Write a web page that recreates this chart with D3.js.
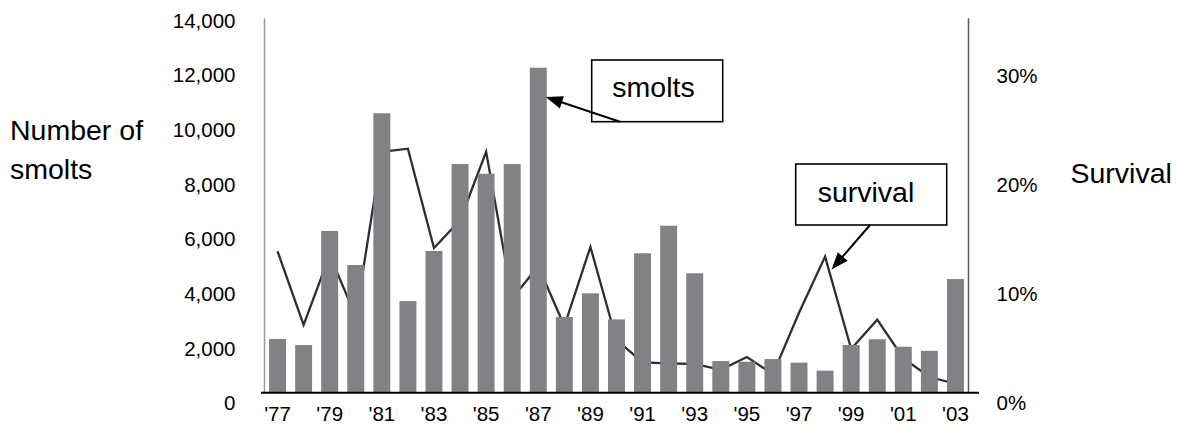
<!DOCTYPE html>
<html>
<head>
<meta charset="utf-8">
<script src="https://cdn.jsdelivr.net/npm/d3@7"></script>
<style>
  html, body { margin: 0; padding: 0; background: #ffffff; }
  svg { display: block; }
  text { font-family: "Liberation Sans", Arial, Helvetica, sans-serif; fill: #000; }
</style>
</head>
<body>
<svg id="chart" width="1180" height="424"></svg>
<script>
// ---- data ----
const years = [1977,1978,1979,1980,1981,1982,1983,1984,1985,1986,1987,1988,1989,1990,
               1991,1992,1993,1994,1995,1996,1997,1998,1999,2000,2001,2002,2003];
const smolts = [1995,1770,6040,4765,10445,3415,5290,8545,8180,8545,12150,2820,3705,2730,
                5205,6235,4455,1170,1145,1245,1110,810,1770,1985,1705,1555,4240];
const survival = [0.132,0.063,0.1285,0.071,0.225,0.228,0.135,0.161,0.225,0.088,0.118,0.062,0.136,0.049,
                  0.028,0.027,0.0265,0.021,0.033,0.017,0.0745,0.127,0.0405,0.068,0.032,0.0143,0.008];
const leftTicks = [0,2000,4000,6000,8000,10000,12000,14000];
const rightTicks = [0,0.10,0.20,0.30];
const xTickYears = [1977,1979,1981,1983,1985,1987,1989,1991,1993,1995,1997,1999,2001,2003];
const leftTitle = ["Number of", "smolts"];
const rightTitle = "Survival";
const smoltsNote = "smolts";
const survivalNote = "survival";

// ---- layout ----
const svg = d3.select("#chart");
const plotLeft = 264.5, plotRight = 968.5, plotTop = 18.3, plotBottom = 392.3;

const x = d3.scaleBand().domain(years).range([plotLeft, plotRight])
  .paddingInner(0.35).paddingOuter(0.175);
const yL = d3.scaleLinear().domain([0, 14000]).range([plotBottom, plotTop]);
const yR = d3.scaleLinear().domain([0, 0.35]).range([plotBottom, plotTop]);
// tick label placement (labels sit slightly offset from the plot, as in the original)
const yLlab = d3.scaleLinear().domain([0, 14000]).range([403.3, 20.7]);
const yRlab = d3.scaleLinear().domain([0, 0.35]).range([403.3, 21]);

const cx = d => x(d) + x.bandwidth() / 2;

// survival line (drawn behind bars)
const line = d3.line().x((d, i) => cx(years[i])).y(d => yR(d));
svg.append("path").datum(survival)
  .attr("d", line).attr("fill", "none")
  .attr("stroke", "#332d2e").attr("stroke-width", 2.3).attr("stroke-linejoin", "miter");

// bars
svg.append("g").selectAll("rect").data(smolts).join("rect")
  .attr("x", (d, i) => x(years[i]))
  .attr("y", d => yL(d))
  .attr("width", x.bandwidth())
  .attr("height", d => yL(0) - yL(d))
  .attr("fill", "#808285");

// axis lines
svg.append("line").attr("x1", plotLeft).attr("x2", plotLeft).attr("y1", plotTop).attr("y2", plotBottom)
  .attr("stroke", "#9a9c9e").attr("stroke-width", 1.5);
svg.append("line").attr("x1", plotRight).attr("x2", plotRight).attr("y1", plotTop).attr("y2", plotBottom)
  .attr("stroke", "#5a5a5a").attr("stroke-width", 1.5);
svg.append("line").attr("x1", 261).attr("x2", 979).attr("y1", plotBottom + 0.4).attr("y2", plotBottom + 0.4)
  .attr("stroke", "#000").attr("stroke-width", 2);

// left tick labels
const gL = svg.append("g").attr("transform", "translate(235.5,0)")
  .call(d3.axisLeft(yLlab).tickValues(leftTicks).tickFormat(d3.format(",")).tickSize(0).tickPadding(0));
gL.select(".domain").remove();
gL.selectAll("text").attr("font-size", 20.5).style("font-family", "Liberation Sans, Arial, sans-serif").attr("fill", "#000");

// right tick labels
const gR = svg.append("g").attr("transform", "translate(996.5,0)")
  .call(d3.axisRight(yRlab).tickValues(rightTicks).tickFormat(d3.format(".0%")).tickSize(0).tickPadding(0));
gR.select(".domain").remove();
gR.selectAll("text").attr("font-size", 20.5).style("font-family", "Liberation Sans, Arial, sans-serif").attr("fill", "#000");

// x tick labels
const gX = svg.append("g").attr("transform", "translate(0," + plotBottom + ")")
  .call(d3.axisBottom(x).tickValues(xTickYears).tickFormat(d => "'" + String(d).slice(2)).tickSize(0).tickPadding(0));
gX.select(".domain").remove();
gX.selectAll("text").attr("font-size", 20.5).attr("dy", 0).attr("y", 29.2)
  .style("font-family", "Liberation Sans, Arial, sans-serif").attr("fill", "#000");

// titles
const lt = svg.append("text").attr("x", 10).attr("font-size", 28.5);
lt.append("tspan").attr("x", 10).attr("y", 140).text(leftTitle[0]);
lt.append("tspan").attr("x", 10).attr("y", 179).text(leftTitle[1]);
svg.append("text").attr("x", 1070.5).attr("y", 183.3).attr("font-size", 28.5).text(rightTitle);

// annotations
function arrow(x1, y1, x2, y2) {
  const dx = x2 - x1, dy = y2 - y1, len = Math.hypot(dx, dy);
  const ux = dx / len, uy = dy / len, hl = 17, hw = 6.5;
  const bx = x2 - ux * hl, by = y2 - uy * hl;
  svg.append("line").attr("x1", x1).attr("y1", y1).attr("x2", bx + ux * 2).attr("y2", by + uy * 2)
    .attr("stroke", "#000").attr("stroke-width", 2);
  svg.append("polygon")
    .attr("points", [[x2, y2], [bx - uy * hw, by + ux * hw], [bx + uy * hw, by - ux * hw]].map(p => p.join(",")).join(" "))
    .attr("fill", "#000");
}
function box(x0, y0, w, h, label, tx, ty) {
  svg.append("rect").attr("x", x0).attr("y", y0).attr("width", w).attr("height", h)
    .attr("fill", "#fff").attr("stroke", "#000").attr("stroke-width", 1.6);
  svg.append("text").attr("x", tx).attr("y", ty).attr("text-anchor", "middle").attr("font-size", 28.5).text(label);
}
box(591.7, 60, 131, 61.7, smoltsNote, 653.5, 97);
arrow(620, 121.7, x(1987) + x.bandwidth() - 1, yL(11050));
box(795.7, 164, 151, 61, survivalNote, 866, 201.7);
arrow(870, 225, cx(1998) + 6.5, yR(0.115));
</script>
</body>
</html>
